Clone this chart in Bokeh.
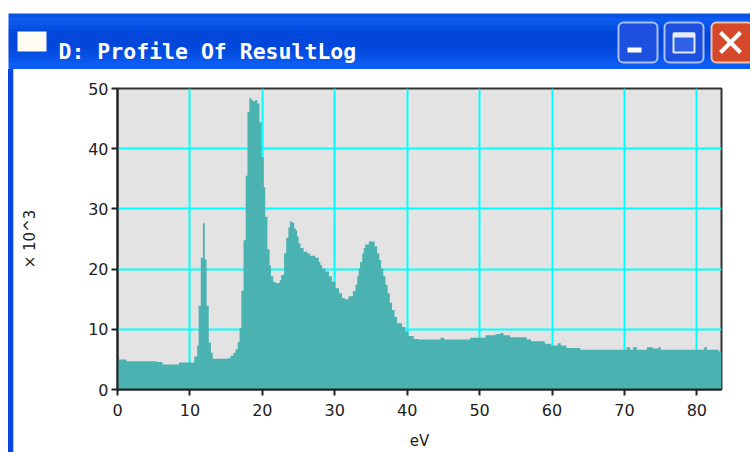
from bokeh.plotting import figure
from bokeh.layouts import column, row
from bokeh.models import Range1d, FixedTicker, Spacer
from bokeh.core.properties import value
from bokeh.embed import file_html
from bokeh.resources import INLINE

# profile: left edge of each bin (eV), height of bin (x 10^3)
edges = [0, 1.24, 5.4, 6.2, 8.5, 10.6, 11.0, 11.2, 11.5, 11.8, 12.05, 12.3, 12.6, 12.9, 13.15, 15.2, 15.6, 16.0, 16.3, 16.6, 16.85,
         17.1, 17.4, 17.7, 17.95, 18.2, 18.5, 18.7, 19.0, 19.3, 19.6, 19.9, 20.2, 20.4, 20.7, 21.0, 21.2, 21.5, 21.8, 22.4, 22.6, 23.0,
         23.3, 23.6, 23.8, 24.1, 24.4, 24.6, 24.8, 25.0, 25.26, 25.7, 26.2, 26.6, 27.3, 27.8, 28.0, 28.25, 28.7, 29.2, 29.6, 30.1, 30.6,
         31.0, 31.4, 31.9, 32.5, 32.85, 33.1, 33.3, 33.5, 33.8, 34.0, 34.2, 34.7, 35.15, 35.5, 35.85, 36.15, 36.4, 36.7, 37.0, 37.3, 37.6,
         37.9, 38.25, 38.6, 39.3, 39.75, 40.2, 40.9, 41.6, 44.6, 45.1, 48.7, 50.8, 52.2, 52.9,
         53.3, 54.2, 56.5, 57.1, 59.0, 59.9, 60.8, 61.2, 62.0, 63.9, 70.3, 70.8, 71.2, 71.7, 73.1, 73.9, 74.7, 75.0, 81.0, 81.4, 83.0, 83.4]
counts = [5.0, 4.7, 4.55, 4.15, 4.5, 5.5, 7.3, 13.9, 21.9, 27.6, 21.6, 13.9, 7.8, 6.1, 5.1, 5.2, 5.6, 6.1, 6.7, 7.9, 10.2,
          16.4, 24.8, 35.5, 46.1, 48.4, 48.1, 47.9, 48.1, 47.5, 44.4, 38.6, 33.6, 28.7, 23.3, 20.6, 18.8, 17.9, 17.7, 18.2, 19.0, 22.6,
          25.2, 26.9, 27.9, 27.7, 26.8, 26.4, 25.4, 24.3, 23.5, 22.9, 22.6, 22.2, 21.9, 21.2, 20.7, 20.1, 19.6, 18.8, 17.9, 16.8, 16.0,
          15.2, 15.0, 15.5, 16.3, 17.4, 18.8, 20.1, 21.2, 22.6, 23.5, 24.1, 24.6, 24.6, 23.8, 22.6, 21.5, 20.1, 18.8, 17.4, 16.0, 14.4,
          13.2, 12.1, 11.0, 10.4, 9.65, 8.9, 8.4, 8.3, 8.6, 8.3, 8.6, 9.0, 9.2, 9.4,
          9.0, 8.7, 8.3, 8.0, 7.6, 7.3, 7.7, 7.3, 6.9, 6.6, 7.0, 6.6, 7.0, 6.6, 7.0, 6.8, 7.0, 6.6, 7.0, 6.6, 6.3, 6.3]

x_ticks = [0, 10, 20, 30, 40, 50, 60, 70, 80]
y_ticks = [0, 10, 20, 30, 40, 50]
window_title = "D: Profile Of ResultLog"
x_label = "eV"
y_label = "\u00d7 10^3"

BAR_H, SIDE_W = 69, 14
W, H = 750 - SIDE_W, 452 - BAR_H

# ---- window chrome (title bar)
bar = figure(width=750, height=BAR_H, output_backend="svg", toolbar_location=None,
             x_range=Range1d(0, 750), y_range=Range1d(BAR_H, 0), x_axis_type=None, y_axis_type=None,
             min_border=0, outline_line_color=None, background_fill_color="#ffffff", border_fill_color="#ffffff")
stripe = ["#0a52e2", "#0b5cf0", "#0a58ea", "#0650e4", "#034ade", "#0246da", "#0246da", "#0246da", "#0348dc", "#044ce0", "#0650e6", "#0856ec", "#0a5cf2", "#0a5ef4"]
stripe_h = (BAR_H - 13) / len(stripe)
bar.quad(left=8, right=750,
         top=[13 + i * stripe_h for i in range(len(stripe))],
         bottom=[13 + (i + 1) * stripe_h + 0.5 for i in range(len(stripe))],
         fill_color=stripe, line_color=None)
bar.quad(left=17, right=46, top=31, bottom=51, fill_color="#fffdf2", line_color=None)
bar.quad(left=[618, 664], right=[657, 703], top=22, bottom=62, fill_color="#1e50e0",
         line_color="#a9bff2", line_width=2, border_radius=5)
bar.quad(left=711, right=752, top=22, bottom=62, fill_color="#d5482a", line_color="#eec0ae", line_width=2, border_radius=5)
bar.quad(left=627, right=641, top=47, bottom=52, fill_color="#ffffff", line_color=None)
bar.quad(left=673, right=694, top=33, bottom=52, fill_color="#2f62e6", line_color="#dfe8fb", line_width=2)
bar.quad(left=673, right=694, top=32, bottom=37, fill_color="#e6ecfb", line_color=None)
bar.segment(x0=[720, 720], y0=[32, 52], x1=[740, 740], y1=[52, 32], line_color="#ffffff", line_width=4)
bar.text(x=[58], y=[51], text=[window_title], text_font=value("DejaVu Sans Mono"), text_font_style="bold",
         text_font_size="21.5px", text_color="#ffffff", text_baseline="alphabetic")

# ---- window chrome (left border)
side = Spacer(width=SIDE_W, height=H,
              styles={"background": "linear-gradient(to right, #ffffff 8px, #0a45e0 8px, #0a45e0 13px, #b8ccf5 13px)"})

# ---- chart
p = figure(width=W, height=H, output_backend="svg", toolbar_location=None,
           x_range=Range1d(0, 83.4), y_range=Range1d(0, 50),
           min_border_left=117 - SIDE_W, min_border_right=750 - 721, min_border_top=88 - BAR_H, min_border_bottom=452 - 390,
           background_fill_color="#e3e3e3", border_fill_color="#ffffff",
           outline_line_color="#333333", outline_line_width=2)

p.varea_step(x=edges, y1=[0] * len(edges), y2=counts, step_mode="after", fill_color="#4bb2b2", level="glyph")

for ax, ticks in ((p.xaxis[0], x_ticks), (p.yaxis[0], y_ticks)):
    ax.ticker = FixedTicker(ticks=ticks)
    ax.major_tick_in = 0
    ax.major_tick_out = 6
    ax.minor_tick_in = 0
    ax.minor_tick_out = 0
    ax.major_tick_line_color = "#222222"
    ax.major_tick_line_width = 2
    ax.axis_line_color = "#222222"
    ax.axis_line_width = 2
    ax.major_label_text_font = "DejaVu Sans"
    ax.major_label_text_font_size = "16px"
    ax.major_label_text_color = "#222222"
    ax.axis_label_text_font = "DejaVu Sans"
    ax.axis_label_text_font_size = "15px"
    ax.axis_label_text_font_style = "normal"
    ax.axis_label_text_color = "#222222"
p.xaxis[0].axis_label = x_label
p.xaxis[0].major_label_standoff = 8
p.xaxis[0].axis_label_standoff = 13
p.yaxis[0].axis_label = y_label
p.yaxis[0].major_label_standoff = 3
p.yaxis[0].axis_label_standoff = 46

p.xgrid[0].grid_line_color = "#00ffff"
p.ygrid[0].grid_line_color = "#00ffff"
p.xgrid[0].grid_line_width = 2
p.ygrid[0].grid_line_width = 2
p.xgrid[0].level = "underlay"
p.ygrid[0].level = "underlay"

page = column(bar, row(side, p, spacing=0), spacing=0)
open("out.html", "w").write(file_html(page, INLINE))
